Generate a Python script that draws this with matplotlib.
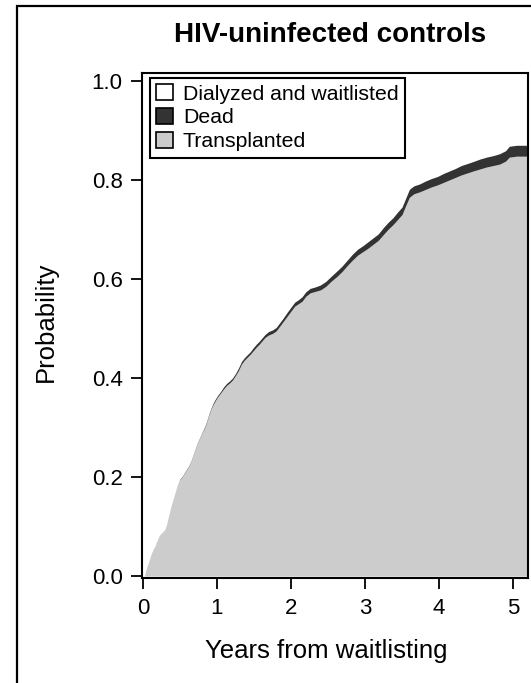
import matplotlib
matplotlib.use('Agg')
import matplotlib.pyplot as plt
from matplotlib.patches import Patch, Rectangle
import numpy as np

plt.rcParams['font.family'] = ['Liberation Sans', 'DejaVu Sans']

title = "HIV-uninfected controls"
x_label = "Years from waitlisting"
y_label = "Probability"
legend_labels = ["Dialyzed and waitlisted", "Dead", "Transplanted"]
x_ticks = [0, 1, 2, 3, 4, 5]
y_ticks = [0.0, 0.2, 0.4, 0.6, 0.8, 1.0]

years = [
    0.00, 0.02, 0.04, 0.06, 0.08, 0.10, 0.12, 0.14, 0.16, 0.18,
    0.20, 0.22, 0.25, 0.28, 0.30, 0.32, 0.34, 0.36, 0.38, 0.40,
    0.42, 0.44, 0.46, 0.48, 0.50, 0.53, 0.56, 0.59, 0.62, 0.65,
    0.68, 0.71, 0.74, 0.77, 0.80, 0.83, 0.86, 0.89, 0.92, 0.95,
    0.98, 1.01, 1.05, 1.09, 1.13, 1.17, 1.21, 1.25, 1.29, 1.33,
    1.37, 1.41, 1.45, 1.49, 1.53, 1.57, 1.61, 1.65, 1.70, 1.75,
    1.80, 1.85, 1.90, 1.95, 2.00, 2.05, 2.10, 2.15, 2.20, 2.26,
    2.33, 2.40, 2.47, 2.54, 2.62, 2.69, 2.76, 2.83, 2.90, 2.97,
    3.04, 3.11, 3.18, 3.25, 3.31, 3.38, 3.44, 3.50, 3.55, 3.60,
    3.66, 3.74, 3.82, 3.90, 3.98, 4.06, 4.14, 4.22, 4.30, 4.38,
    4.46, 4.55, 4.64, 4.73, 4.82, 4.90, 4.95, 5.05, 5.20,
]

transplanted = [
    0.000, 0.000, 0.012, 0.022, 0.030, 0.040, 0.048, 0.055, 0.060, 0.068,
    0.075, 0.082, 0.087, 0.091, 0.096, 0.105, 0.118, 0.130, 0.142, 0.152,
    0.162, 0.172, 0.183, 0.190, 0.195, 0.200, 0.208, 0.215, 0.222, 0.232,
    0.245, 0.258, 0.270, 0.280, 0.290, 0.298, 0.310, 0.325, 0.337, 0.347,
    0.355, 0.362, 0.370, 0.378, 0.385, 0.390, 0.396, 0.405, 0.415, 0.428,
    0.436, 0.442, 0.448, 0.455, 0.462, 0.468, 0.475, 0.482, 0.487, 0.490,
    0.495, 0.505, 0.515, 0.525, 0.535, 0.545, 0.550, 0.555, 0.565, 0.572,
    0.575, 0.578, 0.585, 0.595, 0.605, 0.615, 0.627, 0.638, 0.648, 0.655,
    0.662, 0.670, 0.678, 0.690, 0.700, 0.710, 0.720, 0.730, 0.748, 0.765,
    0.772, 0.776, 0.781, 0.786, 0.790, 0.795, 0.800, 0.805, 0.810, 0.814,
    0.818, 0.822, 0.826, 0.829, 0.832, 0.838, 0.846, 0.848, 0.848,
]

dead = [
    0.000, 0.000, 0.000, 0.000, 0.000, 0.000, 0.000, 0.000, 0.000, 0.000,
    0.000, 0.000, 0.000, 0.000, 0.000, 0.000, 0.000, 0.000, 0.000, 0.000,
    0.000, 0.000, 0.000, 0.000, 0.001, 0.001, 0.001, 0.001, 0.001, 0.001,
    0.001, 0.001, 0.001, 0.001, 0.001, 0.002, 0.002, 0.002, 0.002, 0.003,
    0.003, 0.003, 0.003, 0.004, 0.004, 0.004, 0.004, 0.004, 0.005, 0.005,
    0.005, 0.005, 0.005, 0.006, 0.006, 0.006, 0.006, 0.006, 0.007, 0.007,
    0.007, 0.007, 0.007, 0.008, 0.008, 0.008, 0.008, 0.009, 0.009, 0.009,
    0.009, 0.010, 0.010, 0.010, 0.011, 0.011, 0.011, 0.012, 0.012, 0.012,
    0.013, 0.013, 0.013, 0.014, 0.014, 0.014, 0.015, 0.015, 0.015, 0.016,
    0.016, 0.016, 0.017, 0.017, 0.017, 0.018, 0.018, 0.018, 0.019, 0.019,
    0.019, 0.020, 0.020, 0.020, 0.021, 0.021, 0.022, 0.022, 0.022,
]

W, H = 531, 683
fig = plt.figure(figsize=(W / 100, H / 100), dpi=100)

# outer frame (only left and top visible in the reference)
fig.patches.append(Rectangle((16.5 / W, -0.1), 1.2, 1.1 - 6 / H,
                             transform=fig.transFigure, fill=False,
                             edgecolor='black', linewidth=1.6))

ax_left, ax_right, ax_top, ax_bottom = 142, 528, 73, 578
ax = fig.add_axes([ax_left / W, 1 - ax_bottom / H,
                   (ax_right - ax_left) / W, (ax_bottom - ax_top) / H])

t = np.array(years)
tr = np.array(transplanted)
de = np.array(dead)

gray = '#cccccc'
dark = '#333333'
ax.fill_between(t, 0, tr, color=gray, linewidth=0)
ax.fill_between(t, tr, tr + de, color=dark, linewidth=0)

ax.set_xlim(-0.0135, 5.203)
ax.set_ylim(-0.004, 1.016)
ax.set_xticks(x_ticks)
ax.set_yticks(y_ticks)
ax.set_yticklabels([f"{v:.1f}" for v in y_ticks])
ax.tick_params(axis='both', direction='out', length=8, width=1.3,
               labelsize=16, color='black')
ax.tick_params(axis='y', pad=6)
ax.tick_params(axis='x', pad=6.5)
for s in ax.spines.values():
    s.set_linewidth(1.5)

fig.text(330 / W, 1 - 42 / H, title, ha='center', va='baseline',
         fontsize=20, fontweight='bold')
fig.text(46 / W, 1 - 322 / H, y_label, ha='center', va='center',
         rotation=90, fontsize=18.5)
fig.text(326 / W, 1 - 651 / H, x_label, ha='center', va='center',
         fontsize=18.5)

handles = [Patch(facecolor='white', edgecolor='black', linewidth=1.2),
           Patch(facecolor=dark, edgecolor='black', linewidth=1.2),
           Patch(facecolor=gray, edgecolor='black', linewidth=1.2)]
leg = ax.legend(handles, legend_labels, loc='upper left',
                bbox_to_anchor=((150 - ax_left) / (ax_right - ax_left),
                                (ax_bottom - 78) / (ax_bottom - ax_top)),
                borderaxespad=0, fontsize=15.3, frameon=True, fancybox=False,
                edgecolor='black', framealpha=1, handlelength=0.8,
                handleheight=0.75, handletextpad=0.45, labelspacing=0.22,
                borderpad=0.3)
leg.get_frame().set_linewidth(1.5)

fig.savefig('out.png', dpi=100)
